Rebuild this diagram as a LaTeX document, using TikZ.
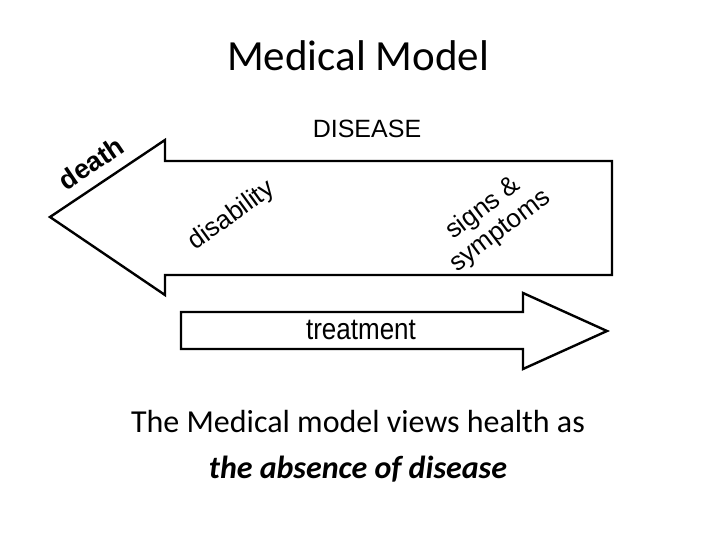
\documentclass[tikz,border=0pt]{standalone}
\usepackage{fontspec}
\setmainfont{Carlito}
\newfontfamily\arialfont{Liberation Sans}
\usetikzlibrary{positioning}

\begin{document}
\begin{tikzpicture}[x=1pt,y=-1pt,
    arrowline/.style={line width=2.4pt, line join=miter, black},
    lbl/.style={inner sep=0pt, font=\arialfont\fontsize{26}{28}\selectfont}]
  %tikz  Medical Model
    \useasboundingbox (0,0) rectangle (720,540);
    \node[inner sep=0pt, anchor=base, font=\fontsize{43}{50}\selectfont] (title) at (358,71) {Medical Model};
    % disease arrow
    \draw[arrowline] (50,217) -- (165,140) -- (165,161) -- (612,161) -- (612,275)
      -- (165,275) -- (165,295) -- cycle;
    % treatment arrow
    \draw[arrowline] (181,312) -- (523,312) -- (523,293) -- (607,331) -- (523,369)
      -- (523,349) -- (181,349) -- cycle;
    \node[lbl, anchor=base, font=\arialfont\fontsize{25}{28}\selectfont] (disease) at (367,138) {DISEASE};
    \node[lbl, rotate=34, font=\arialfont\bfseries\fontsize{27}{28}\selectfont] (death) at (91,163) {death};
    \node[lbl, rotate=36] (disability) at (232,216) {disability};
    \node[lbl, rotate=37, align=center] (signs) at (492,220) {signs \&\\symptoms};
    \node[lbl, anchor=base, yscale=1.15] (treatment) at (361,339) {treatment};
    \node[inner sep=0pt, anchor=base, align=center, font=\fontsize{32}{46}\selectfont] (caption) at (358,478)
      {The Medical model views health as\\\textbf{\textit{the absence of disease}}};
\end{tikzpicture}
\end{document}
